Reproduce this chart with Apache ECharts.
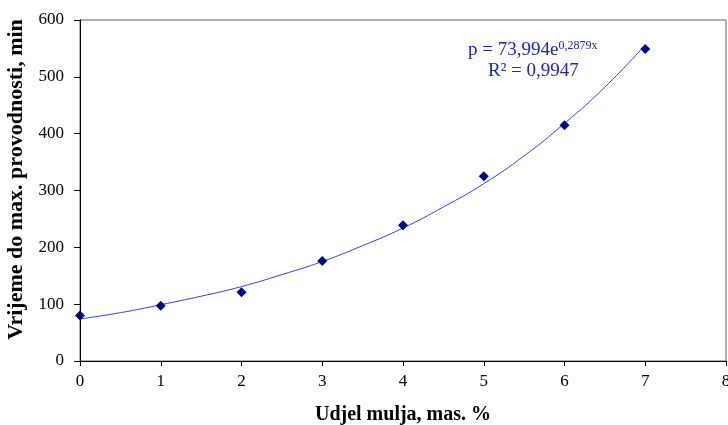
<!DOCTYPE html>
<html><head><meta charset="utf-8">
<script src="https://cdn.jsdelivr.net/npm/echarts@6/dist/echarts.min.js"></script>
<style>html,body{margin:0;padding:0;background:#fff}#c{width:728px;height:425px}</style>
</head><body><div id="c"></div>
<script>
var xValues = [0, 1, 2, 3, 4, 5, 6, 7];
var measured = [80, 97, 121, 176, 239, 325, 415, 549];
// trendline values
var trendX = [0, 0.5, 1, 1.5, 2, 2.5, 3, 3.5, 4, 4.5, 5, 5.5, 6, 6.5, 7];
var trendY = [74, 85, 99, 114, 131, 152, 175, 203, 234, 271, 312, 361, 418, 482, 556];
var xTicks = [0, 1, 2, 3, 4, 5, 6, 7, 8];
var yTicks = [0, 100, 200, 300, 400, 500, 600];
var xTitle = 'Udjel mulja, mas. %';
var yTitle = 'Vrijeme do max. provodnosti, min';
var eqMain = 'p = 73,994e';
var eqExp = '0,2879x';
var eqR2 = 'R² = 0,9947';

var font = 'Liberation Serif';
var chart = echarts.init(document.getElementById('c'));
chart.setOption({
  animation: false,
  grid: {left: 80, right: 2, top: 20, bottom: 64, show: true, borderColor: '#606060', borderWidth: 1,
         backgroundColor: '#fff', containLabel: false, outerBoundsMode: 'none'},
  xAxis: {
    type: 'value', min: xTicks[0], max: xTicks[xTicks.length - 1], interval: 1,
    name: xTitle, nameLocation: 'middle', nameGap: 44,
    nameTextStyle: {fontFamily: font, fontWeight: 'bold', fontSize: 20, color: '#000'},
    axisLine: {lineStyle: {color: '#000', width: 1}},
    axisTick: {show: true, inside: false, length: 5, lineStyle: {color: '#000'}},
    axisLabel: {fontFamily: font, fontSize: 17, color: '#000', margin: 12},
    splitLine: {show: false}
  },
  yAxis: {
    type: 'value', min: yTicks[0], max: yTicks[yTicks.length - 1], interval: 100,
    name: yTitle, nameLocation: 'middle', nameGap: 49,
    nameTextStyle: {fontFamily: font, fontWeight: 'bold', fontSize: 22, color: '#000', padding: [0, 0, 0, 22]},
    axisLine: {show: true, lineStyle: {color: '#000', width: 1}},
    axisTick: {show: true, inside: false, length: 6, lineStyle: {color: '#000'}},
    axisLabel: {fontFamily: font, fontSize: 17, color: '#000', margin: 16},
    splitLine: {show: false}
  },
  series: [
    {
      type: 'line', smooth: true, showSymbol: false, symbol: 'none',
      data: trendX.map(function (x, i) { return [x, trendY[i]]; }),
      lineStyle: {color: '#3d3dd6', width: 1}, z: 2
    },
    {
      type: 'scatter', symbol: 'diamond', symbolSize: 10,
      data: xValues.map(function (x, i) { return [x, measured[i]]; }),
      itemStyle: {color: '#000080', opacity: 1}, z: 3
    }
  ],
  graphic: [
    {type: 'text', left: 468, top: 40, style: {
      rich: {
        m: {fontFamily: font, fontSize: 19, fill: '#2323b0'},
        s: {fontFamily: font, fontSize: 12, fill: '#2323b0', verticalAlign: 'top', padding: [0, 0, 8, 0]}
      },
      text: '{m|' + eqMain + '}{s|' + eqExp + '}'
    }},
    {type: 'text', left: 488, top: 62, style: {fontFamily: font, fontSize: 19, fill: '#2323b0', text: eqR2}}
  ]
});
</script></body></html>
